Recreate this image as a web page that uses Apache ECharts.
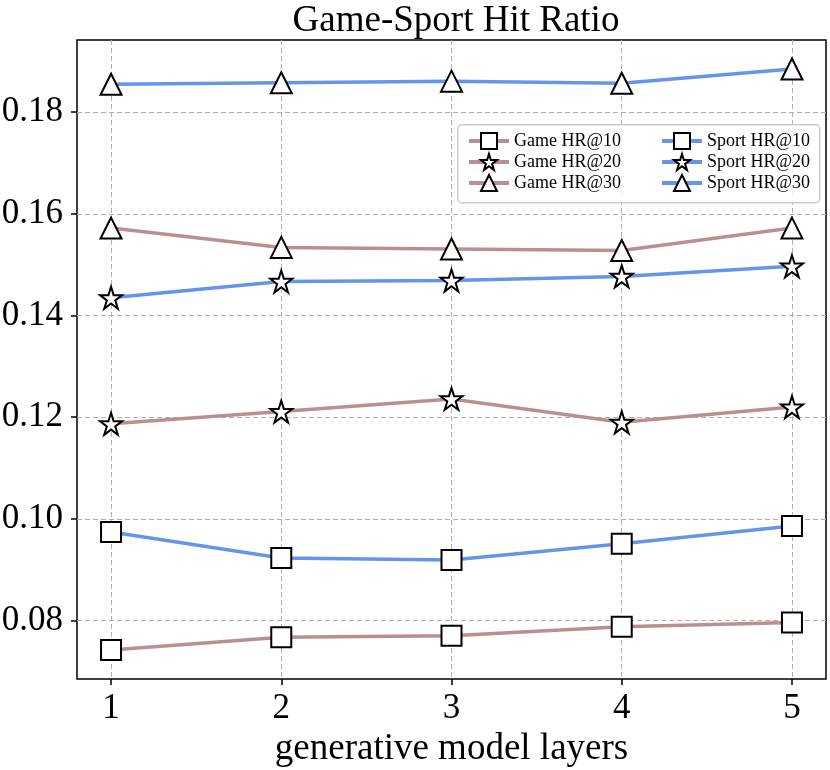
<!DOCTYPE html>
<html>
<head>
<meta charset="utf-8">
<script src="https://cdn.jsdelivr.net/npm/echarts@6/dist/echarts.min.js"></script>
<style>
  html, body { margin: 0; padding: 0; background: #fff; }
  #main { width: 830px; height: 770px; }
</style>
</head>
<body>
<div id="main"></div>
<script>
// layers on the x axis
var layers = [1, 2, 3, 4, 5];
// hit ratios
var gameHR10 = [0.0742, 0.0767, 0.0770, 0.0788, 0.0796];
var gameHR20 = [0.1187, 0.1211, 0.1236, 0.1190, 0.1220];
var gameHR30 = [0.1572, 0.1534, 0.1531, 0.1528, 0.1572];
var sportHR10 = [0.0974, 0.0923, 0.0919, 0.0951, 0.0986];
var sportHR20 = [0.1435, 0.1467, 0.1469, 0.1477, 0.1497];
var sportHR30 = [0.1855, 0.1858, 0.1861, 0.1857, 0.1885];
// tick labels
var yTicks = [0.08, 0.10, 0.12, 0.14, 0.16, 0.18];
var xTicks = [1, 2, 3, 4, 5];

var FONT = 'Liberation Serif';
var GAME_COLOR = '#BC8F8F';
var SPORT_COLOR = '#6495ED';

// five pointed star like matplotlib '*'
function starPath() {
    var pts = [];
    for (var i = 0; i < 10; i++) {
        var r = i % 2 === 0 ? 1 : 0.382;
        var a = -Math.PI / 2 + i * Math.PI / 5;
        pts.push((r * Math.cos(a)).toFixed(4) + ' ' + (r * Math.sin(a)).toFixed(4));
    }
    return 'path://M' + pts.join(' L') + ' Z';
}
var STAR = starPath();

function pairs(ys) {
    var res = [];
    for (var i = 0; i < layers.length; i++) {
        res.push([layers[i], ys[i]]);
    }
    return res;
}

function makeSeries(name, ys, color, symbol, size) {
    return {
        name: name,
        type: 'line',
        data: pairs(ys),
        symbol: symbol,
        symbolSize: size,
        showAllSymbol: true,
        animation: false,
        lineStyle: { color: color, width: 3.5 },
        itemStyle: { color: '#fff', borderColor: '#000', borderWidth: 2 },
        emphasis: { disabled: true }
    };
}

function makeLegend(names, left) {
    return {
        data: names,
        orient: 'vertical',
        left: left, top: 127,
        itemWidth: 40, itemHeight: 20, itemGap: 3,
        lineStyle: { width: 4 },
        textStyle: { fontFamily: FONT, fontSize: 18, color: '#000', padding: [0, 0, 0, 0] },
        z: 11
    };
}

var chart = echarts.init(document.getElementById('main'));

var option = {
    backgroundColor: '#fff',
    animation: false,
    title: {
        text: 'Game-Sport Hit Ratio',
        left: 451,
        top: -2,
        textAlign: 'center',
        textStyle: { fontFamily: FONT, fontSize: 37, fontWeight: 'normal', color: '#000' }
    },
    grid: {
        left: 77, right: 4, top: 40, bottom: 91,
        show: true, borderColor: '#000', borderWidth: 1.5,
        containLabel: false,
        outerBoundsMode: 'none'
    },
    graphic: [{
        type: 'rect',
        left: 457, top: 124,
        shape: { width: 362, height: 78, r: 4 },
        style: { fill: 'rgba(255,255,255,0.8)', stroke: '#cccccc', lineWidth: 1.5 },
        z: 10
    }],
    legend: [
        makeLegend(['Game HR@10', 'Game HR@20', 'Game HR@30'], 462),
        makeLegend(['Sport HR@10', 'Sport HR@20', 'Sport HR@30'], 655)
    ],
    xAxis: {
        type: 'value',
        min: 0.8, max: 5.2,
        name: 'generative model layers',
        nameLocation: 'middle',
        nameGap: 51,
        nameTextStyle: { fontFamily: FONT, fontSize: 37, color: '#000' },
        axisLine: { show: false },
        axisTick: { show: true, length: 6, lineStyle: { color: '#000', width: 1.5 }, customValues: xTicks },
        axisLabel: { fontFamily: FONT, fontSize: 35, color: '#000', margin: 12, customValues: xTicks,
            formatter: function (v) { return String(v); } },
        splitLine: { show: true, lineStyle: { color: '#b0b0b0', type: [5, 3], width: 1 } }
    },
    yAxis: {
        type: 'value',
        min: 0.0685, max: 0.1942,
        axisLine: { show: false },
        axisTick: { show: true, length: 6, lineStyle: { color: '#000', width: 1.5 }, customValues: yTicks },
        axisLabel: { fontFamily: FONT, fontSize: 35, color: '#000', margin: 14, customValues: yTicks,
            formatter: function (v) { return v.toFixed(2); } },
        splitLine: { show: true, lineStyle: { color: '#b0b0b0', type: [5, 3], width: 1 } }
    },
    series: [
        makeSeries('Game HR@10', gameHR10, GAME_COLOR, 'rect', 20),
        makeSeries('Game HR@20', gameHR20, GAME_COLOR, STAR, 22),
        makeSeries('Game HR@30', gameHR30, GAME_COLOR, 'triangle', 21),
        makeSeries('Sport HR@10', sportHR10, SPORT_COLOR, 'rect', 20),
        makeSeries('Sport HR@20', sportHR20, SPORT_COLOR, STAR, 22),
        makeSeries('Sport HR@30', sportHR30, SPORT_COLOR, 'triangle', 21)
    ]
};

chart.setOption(option);
</script>
</body>
</html>
